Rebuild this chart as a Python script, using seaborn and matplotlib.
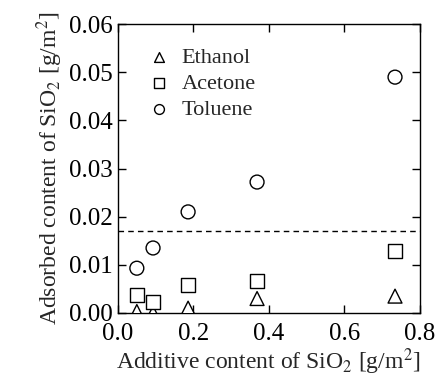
import numpy as np
import pandas as pd
import seaborn as sns
import matplotlib
matplotlib.use("Agg")
import matplotlib.pyplot as plt

# values
additive = [0.05, 0.093, 0.186, 0.369, 0.735]
ethanol = [0.0003, 0.0, 0.001, 0.003, 0.0035]
acetone = [0.0037, 0.0023, 0.0058, 0.0066, 0.0129]
toluene = [0.0093, 0.0135, 0.021, 0.0272, 0.049]
limit = 0.017

df = pd.DataFrame({
    "x": additive * 3,
    "y": ethanol + acetone + toluene,
    "solvent": ["Ethanol"] * 5 + ["Acetone"] * 5 + ["Toluene"] * 5,
})

sns.set_style("ticks")
plt.rcParams["font.family"] = ["Liberation Serif", "DejaVu Serif"]
plt.rcParams["mathtext.fontset"] = "stix"

fig, ax = plt.subplots(figsize=(4.37, 3.84), dpi=100)
sns.scatterplot(data=df, x="x", y="y", style="solvent",
                markers={"Ethanol": "^", "Acetone": "s", "Toluene": "o"},
                s=100, facecolor="white", edgecolor="black", linewidth=1.0,
                legend=False, ax=ax, zorder=3)
ax.axhline(limit, color="black", ls=(0, (4, 3)), lw=1.0)

# legend entries
for lab, m in [("Ethanol", "^"), ("Acetone", "s"), ("Toluene", "o")]:
    ax.scatter([], [], marker=m, s=50, facecolor="white", edgecolor="black",
               linewidth=1.0, label=lab)
ax.legend(loc="upper left", frameon=False, fontsize=16, handletextpad=0.2,
          labelspacing=0.25, borderaxespad=0.6, borderpad=0.45,
          scatterpoints=1, handlelength=1.6)

ax.set_xlim(0, 0.8)
ax.set_ylim(0, 0.06)
ax.set_xticks(np.arange(0, 0.81, 0.2))
ax.set_yticks(np.arange(0, 0.061, 0.01))
ax.set_xticklabels([f"{v:.1f}" for v in np.arange(0, 0.81, 0.2)])
ax.set_yticklabels([f"{v:.2f}" for v in np.arange(0, 0.061, 0.01)])
ax.tick_params(direction="in", top=True, right=True, length=6, width=1,
               labelsize=18, colors="black")
ax.tick_params(axis="x", pad=7)
ax.tick_params(axis="y", pad=4)
for sp in ax.spines.values():
    sp.set_linewidth(1.0)
    sp.set_color("black")

ax.set_xlabel(r"Additive content of SiO$_2$ [g/m$^2$]", fontsize=17, labelpad=1)
ax.set_ylabel(r"Adsorbed content of SiO$_2$ [g/m$^2$]", fontsize=17, labelpad=3)

fig.subplots_adjust(left=0.27, right=0.96, top=0.937, bottom=0.185)
fig.savefig("out.png", dpi=100)
